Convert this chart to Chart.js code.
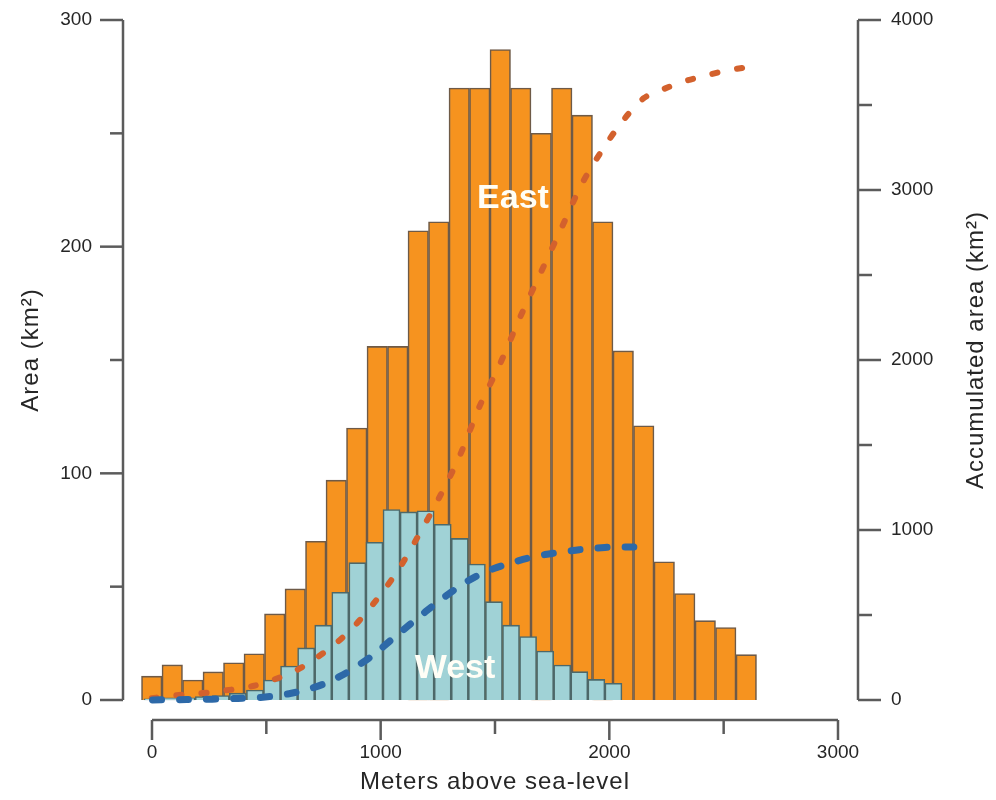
<!DOCTYPE html>
<html>
<head>
<meta charset="utf-8">
<title>Area by elevation, East and West</title>
<script src="https://cdn.jsdelivr.net/npm/chart.js@4.4.1/dist/chart.umd.min.js"></script>
<style>
  body { margin: 0; background: #fff; }
  #wrap { width: 996px; height: 800px; }
</style>
</head>
<body>
<div id="wrap"><canvas id="hypso" width="996" height="800"></canvas></div>
<script>
// 100 m elevation bins (lower edge, metres)
const binStart = [0, 100, 200, 300, 400, 500, 600, 700, 800, 900,
  1000, 1100, 1200, 1300, 1400, 1500, 1600, 1700, 1800, 1900,
  2000, 2100, 2200, 2300, 2400, 2500, 2600, 2700, 2800, 2900];

// area per bin, km2
const eastArea = [10.5, 15.5, 8.8, 12.4, 16.4, 20.4, 38, 49, 70, 97,
  120, 156, 156, 207, 211, 270, 270, 287, 270, 250,
  270, 258, 211, 154, 121, 61, 47, 35, 32, 20];
const westArea = [0.5, 1, 1, 1.5, 2, 3, 4.4, 8.8, 15, 23,
  33, 47.5, 60.6, 69.6, 84, 83, 83.5, 77.5, 71.3, 60,
  43.4, 33, 28, 21.6, 15.4, 12.5, 9.1, 7.4, 0, 0];

// accumulated area, km2
const eastAccum = [10, 26, 35, 47, 63, 84, 122, 171, 245, 335,
  450, 595, 760, 965, 1185, 1430, 1730, 1980, 2260, 2520,
  2780, 3040, 3240, 3410, 3540, 3595, 3640, 3672, 3702, 3722];
const westAccum = [0.5, 1.5, 2.5, 4, 6, 9, 13, 22, 37, 60,
  93, 140, 200, 270, 355, 438, 520, 598, 670, 730,
  773, 806, 835, 856, 871, 884, 893, 900, 900, 900];

const areaTicks = [0, 50, 100, 150, 200, 250, 300];
const accumTicks = [0, 500, 1000, 1500, 2000, 2500, 3000, 3500, 4000];
const elevTicks = [0, 500, 1000, 1500, 2000, 2500, 3000];

const axisInk = '#5b5b5b';
const labelInk = '#262626';
const fontFamily = '"Liberation Sans", Arial, Helvetica, sans-serif';
Chart.defaults.font.family = fontFamily;
Chart.defaults.color = labelInk;

const centers = binStart.map(b => b + 50);
const toPoints = vals => centers.map((x, i) => ({ x, y: vals[i] }));
const setTicks = list => scale => { scale.ticks = list.map(v => ({ value: v })); };
// keep the plot box fixed, ignore label overflow padding
const fixBox = (w, h) => s => {
  if (w) s.width = w;
  if (h) s.height = h;
  s.paddingTop = s.paddingBottom = s.paddingLeft = s.paddingRight = 0;
};

// R style detached axes, tick marks and axis titles
const rAxes = {
  id: 'rAxes',
  afterDatasetsDraw(chart) {
    const { ctx, scales: { xE, xW, y } } = chart;
    ctx.save();
    ctx.fillStyle = '#fffef6';
    ctx.font = 'bold 34px ' + fontFamily;
    ctx.textAlign = 'center';
    ctx.textBaseline = 'middle';
    ctx.fillText('East', xE.getPixelForValue(1812), y.getPixelForValue(221));
    ctx.fillText('West', xW.getPixelForValue(1822), y.getPixelForValue(14));
    ctx.restore();
  },
  afterDraw(chart) {
    const { ctx, chartArea: area, scales: { x, y, y2 } } = chart;
    const seg = (a, b, c, d) => { ctx.beginPath(); ctx.moveTo(a, b); ctx.lineTo(c, d); ctx.stroke(); };
    ctx.save();
    ctx.strokeStyle = axisInk;
    ctx.lineWidth = 2.5;

    const L = area.left;
    seg(L, y.getPixelForValue(0), L, y.getPixelForValue(300));
    areaTicks.forEach(v => {
      const p = y.getPixelForValue(v);
      seg(L, p, L - (v % 100 ? 13 : 23), p);
    });

    const R = area.right;
    seg(R, y2.getPixelForValue(0), R, y2.getPixelForValue(4000));
    accumTicks.forEach(v => {
      const p = y2.getPixelForValue(v);
      seg(R, p, R + (v % 1000 ? 14 : 23), p);
    });

    const B = area.bottom;
    seg(x.getPixelForValue(0), B, x.getPixelForValue(3000), B);
    elevTicks.forEach(v => {
      const p = x.getPixelForValue(v);
      seg(p, B, p, B + (v % 1000 ? 14 : 20));
    });

    ctx.fillStyle = labelInk;
    ctx.font = '24px ' + fontFamily;
    ctx.letterSpacing = '1px';
    ctx.textAlign = 'center';
    ctx.textBaseline = 'middle';
    ctx.fillText('Meters above sea-level', (x.getPixelForValue(0) + x.getPixelForValue(3000)) / 2, 782);
    ctx.translate(31, 350);
    ctx.rotate(-Math.PI / 2);
    ctx.fillText('Area (km²)', 0, 0);
    ctx.rotate(Math.PI / 2);
    ctx.translate(976 - 31, 0);
    ctx.rotate(-Math.PI / 2);
    ctx.fillText('Accumulated area (km²)', 0, 0);
    ctx.restore();
  }
};

new Chart(document.getElementById('hypso'), {
  type: 'bar',
  data: {
    datasets: [
      {
        type: 'line', label: 'West accumulated', data: toPoints(westAccum),
        xAxisID: 'xW', yAxisID: 'y2', order: 0,
        borderColor: '#2d69a8', borderWidth: 7, borderDash: [9, 18], borderCapStyle: 'round',
        pointRadius: 0, tension: 0.3, fill: false
      },
      {
        type: 'line', label: 'East accumulated', data: toPoints(eastAccum),
        xAxisID: 'xE', yAxisID: 'y2', order: 1,
        borderColor: '#d3612d', borderWidth: 6, borderDash: [5, 20], borderCapStyle: 'round',
        pointRadius: 0, tension: 0.3, fill: false
      },
      {
        label: 'West', data: toPoints(westArea), xAxisID: 'xW', yAxisID: 'y', order: 2,
        backgroundColor: '#a0d2d6', borderColor: '#4d6869', borderWidth: 1.6,
        barPercentage: 1, categoryPercentage: 1, grouped: false
      },
      {
        label: 'East', data: toPoints(eastArea), xAxisID: 'xE', yAxisID: 'y', order: 3,
        backgroundColor: '#f6931f', borderColor: '#6e5a47', borderWidth: 1.6,
        barPercentage: 1, categoryPercentage: 1, grouped: false
      }
    ]
  },
  options: {
    responsive: false,
    animation: false,
    devicePixelRatio: 1,
    layout: { padding: { top: 20, left: 0, right: 0, bottom: 0 } },
    plugins: { legend: { display: false }, tooltip: { enabled: false } },
    scales: {
      x: {
        type: 'linear', position: 'bottom', min: -126.8, max: 3087.5, offset: false,
        afterBuildTicks: setTicks(elevTicks),
        afterFit: fixBox(0, 80),
        grid: { display: false, drawTicks: false, offset: false },
        border: { display: false },
        ticks: {
          autoSkip: false, maxRotation: 0, padding: 21,
          font: { size: 19 },
          callback: v => (v % 1000 === 0 ? String(v) : '')
        }
      },
      xE: { type: 'linear', axis: 'x', display: false, offset: false, min: -90.24, max: 3495.1 },
      xW: { type: 'linear', axis: 'x', display: false, offset: false, min: -123.0, max: 4182.8 },
      y: {
        type: 'linear', position: 'left', min: -8.8235, max: 300,
        afterBuildTicks: setTicks(areaTicks),
        afterFit: fixBox(123, 0),
        grid: { display: false, drawTicks: false },
        border: { display: false },
        ticks: {
          padding: 31, font: { size: 19 },
          callback: v => (v % 100 === 0 ? String(v) : '')
        }
      },
      y2: {
        type: 'linear', position: 'right', min: -117.647, max: 4000,
        afterBuildTicks: setTicks(accumTicks),
        afterFit: fixBox(138, 0),
        grid: { display: false, drawTicks: false },
        border: { display: false },
        ticks: {
          padding: 33, font: { size: 19 },
          callback: v => (v % 1000 === 0 ? String(v) : '')
        }
      }
    }
  },
  plugins: [rAxes]
});
</script>
</body>
</html>
